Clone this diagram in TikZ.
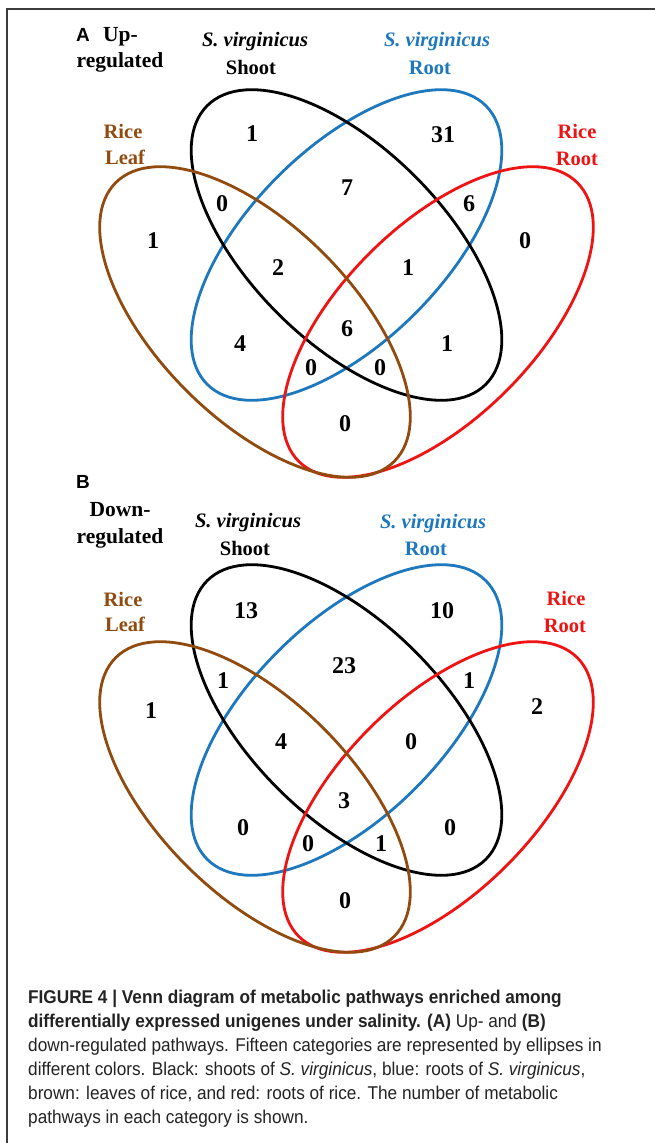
\documentclass[tikz,border=0pt]{standalone}
\usepackage{fontspec}
\setmainfont{Liberation Serif}
\newfontfamily\capfont[FakeStretch=0.93]{Liberation Sans}
\newfontfamily\panelfont{Liberation Sans}

\definecolor{shootblack}{RGB}{0,0,0}
\definecolor{rootblue}{RGB}{30,120,190}
\definecolor{leafbrown}{RGB}{145,75,15}
\definecolor{rootred}{RGB}{238,20,20}
\definecolor{framegray}{RGB}{60,60,60}
\definecolor{captext}{RGB}{35,35,35}

\tikzset{
  vennline/.style={line width=2.8pt},
  count/.style={font=\fontsize{24}{24}\selectfont\bfseries, anchor=base, inner sep=0pt},
  setlabel/.style={font=\fontsize{20.5}{20.5}\selectfont\bfseries, anchor=base, inner sep=0pt},
  paneltitle/.style={font=\fontsize{21.5}{21.5}\selectfont\bfseries, anchor=base, inner sep=0pt},
  panelletter/.style={font=\fontsize{19}{19}\selectfont\panelfont\bfseries, anchor=base, inner sep=0pt},
  capline/.style={font=\fontsize{18.5}{18.5}\selectfont\capfont, text=captext, anchor=base west, inner sep=0pt},
}

% the four ellipses of one Venn panel
\newcommand\drawvennset{%
  \draw[vennline, rootblue, rotate around={45:(346.5,245)}] (346.5,245) ellipse [x radius=197, y radius=97];
  \draw[vennline, shootblack, rotate around={-45:(346.5,245)}] (346.5,245) ellipse [x radius=197, y radius=97];
  \draw[vennline, rootred, rotate around={45:(438,322)}] (438,322) ellipse [x radius=197, y radius=97];
  \draw[vennline, leafbrown, rotate around={-45:(255,322)}] (255,322) ellipse [x radius=197, y radius=97];
}

\begin{document}
\begin{tikzpicture}[x=1pt, y=-1pt]
\useasboundingbox (0,0) rectangle (655,1143);
\fill[white] (0,0) rectangle (655,1143);

% frame
\draw[framegray, line width=1.6pt] (7,1143) -- (7,9) -- (655,9);

% ---------- panel A: up-regulated ----------
\drawvennset
\node[panelletter] (lA) at (83,41.5) {A};
\node[paneltitle, anchor=base west] (tA1) at (103,41.5) {Up-};
\node[paneltitle] (tA2) at (120,67.5) {regulated};

\node[setlabel] (sA1) at (255,46) {\itshape S. virginicus};
\node[setlabel] (sA2) at (251,74) {Shoot};
\node[setlabel, text=rootblue] (rA1) at (437,46) {\itshape S. virginicus};
\node[setlabel, text=rootblue] (rA2) at (430,74) {Root};
\node[setlabel, text=leafbrown] (fA1) at (123,138) {Rice};
\node[setlabel, text=leafbrown] (fA2) at (125,164) {Leaf};
\node[setlabel, text=rootred] (dA1) at (577,138.5) {Rice};
\node[setlabel, text=rootred] (dA2) at (577,165) {Root};

\node[count] (a01) at (252,141) {1};
\node[count] (a02) at (443,142) {31};
\node[count] (a03) at (347,195) {7};
\node[count] (a04) at (222,211) {0};
\node[count] (a05) at (469,211) {6};
\node[count] (a06) at (153,248) {1};
\node[count] (a07) at (525,248) {0};
\node[count] (a08) at (278,275) {2};
\node[count] (a09) at (408,275) {1};
\node[count] (a10) at (347,336) {6};
\node[count] (a11) at (240,351) {4};
\node[count] (a12) at (447,351) {1};
\node[count] (a13) at (311,375) {0};
\node[count] (a14) at (380,375) {0};
\node[count] (a15) at (345,431) {0};

% ---------- panel B: down-regulated ----------
\begin{scope}[shift={(0,475)}]
  \drawvennset
\end{scope}
\node[panelletter] (lB) at (83,488) {B};
\node[paneltitle] (tB1) at (120,516) {Down-};
\node[paneltitle] (tB2) at (120,543) {regulated};

\node[setlabel] (sB1) at (248,527) {\itshape S. virginicus};
\node[setlabel] (sB2) at (245,555) {Shoot};
\node[setlabel, text=rootblue] (rB1) at (433,528) {\itshape S. virginicus};
\node[setlabel, text=rootblue] (rB2) at (426,555) {Root};
\node[setlabel, text=leafbrown] (fB1) at (123,606) {Rice};
\node[setlabel, text=leafbrown] (fB2) at (125,631) {Leaf};
\node[setlabel, text=rootred] (dB1) at (566,605) {Rice};
\node[setlabel, text=rootred] (dB2) at (565,632) {Root};

\node[count] (b01) at (246,618) {13};
\node[count] (b02) at (442,618) {10};
\node[count] (b03) at (344,673) {23};
\node[count] (b04) at (223,688) {1};
\node[count] (b05) at (469,688) {1};
\node[count] (b06) at (151,718) {1};
\node[count] (b07) at (537,714) {2};
\node[count] (b08) at (281,749) {4};
\node[count] (b09) at (411,749) {0};
\node[count] (b10) at (344,808) {3};
\node[count] (b11) at (243,835) {0};
\node[count] (b12) at (450,835) {0};
\node[count] (b13) at (308,851) {0};
\node[count] (b14) at (381,851) {1};
\node[count] (b15) at (345,908) {0};

% ---------- caption ----------
\node[capline] (c1) at (28,1003) {\bfseries FIGURE 4 | Venn diagram of metabolic pathways enriched among};
\node[capline] (c2) at (28,1027) {{\bfseries differentially expressed unigenes under salinity. (A)} Up- and {\bfseries (B)}};
\node[capline] (c3) at (28,1051) {down-regulated pathways. Fifteen categories are represented by ellipses in};
\node[capline] (c4) at (28,1075) {different colors. Black: shoots of \textit{S. virginicus}, blue: roots of \textit{S. virginicus},};
\node[capline] (c5) at (28,1099) {brown: leaves of rice, and red: roots of rice. The number of metabolic};
\node[capline] (c6) at (28,1123) {pathways in each category is shown.};
\end{tikzpicture}
\end{document}
